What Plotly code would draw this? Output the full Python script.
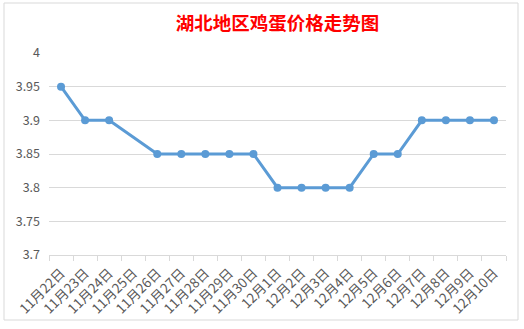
import plotly.graph_objects as go

dates = ["11月22日", "11月23日", "11月24日", "11月25日", "11月26日", "11月27日", "11月28日",
         "11月29日", "11月30日", "12月1日", "12月2日", "12月3日", "12月4日", "12月5日",
         "12月6日", "12月7日", "12月8日", "12月9日", "12月10日"]
prices = [3.95, 3.90, 3.90, None, 3.85, 3.85, 3.85, 3.85, 3.85, 3.80, 3.80, 3.80, 3.80,
          3.85, 3.85, 3.90, 3.90, 3.90, 3.90]
y_ticks = [3.7, 3.75, 3.8, 3.85, 3.9, 3.95, 4.0]
y_tick_text = ["3.7", "3.75", "3.8", "3.85", "3.9", "3.95", "4"]
title_text = "湖北地区鸡蛋价格走势图"

font_family = "Noto Sans CJK SC, Noto Sans, sans-serif"

fig = go.Figure()
fig.add_trace(go.Scatter(
    x=dates, y=prices, mode="lines+markers", connectgaps=True,
    line=dict(color="#5b9bd5", width=3),
    marker=dict(color="#5b9bd5", size=8),
    hoverinfo="skip",
))

fig.update_layout(
    width=524, height=329,
    margin=dict(l=49, r=18, t=53, b=74),
    paper_bgcolor="white", plot_bgcolor="white",
    showlegend=False,
    font=dict(family=font_family, color="#595959", size=12),
    title=dict(text="<b>" + title_text + "</b>", x=0.5, xanchor="center", y=0.928, yanchor="middle",
               xref="paper",
               font=dict(family=font_family, color="#ff0000", size=18.5)),
    shapes=[dict(type="rect", xref="paper", yref="paper",
                 x0=-45 / 457, x1=1 + 12 / 457, y0=-65 / 202, y1=1 + 50 / 202,
                 line=dict(color="#d9d9d9", width=1))],
)
fig.update_xaxes(
    type="category", tickangle=-45, showgrid=False,
    showline=True, linecolor="#d9d9d9", linewidth=1,
    ticks="outside", ticklen=5, tickcolor="#d9d9d9", tickson="boundaries",
    tickfont=dict(size=13.5, color="#595959"), ticklabelstandoff=4,
    range=[-0.5, len(dates) - 0.5],
)
fig.update_yaxes(
    range=[3.7, 4.0], tickvals=y_ticks, ticktext=y_tick_text,
    showgrid=True, gridcolor="#d9d9d9", gridwidth=1, zeroline=False,
    showline=False, ticks="", ticklabelstandoff=8,
    tickfont=dict(size=12.5, color="#595959"),
)

fig.write_html("out.html")
